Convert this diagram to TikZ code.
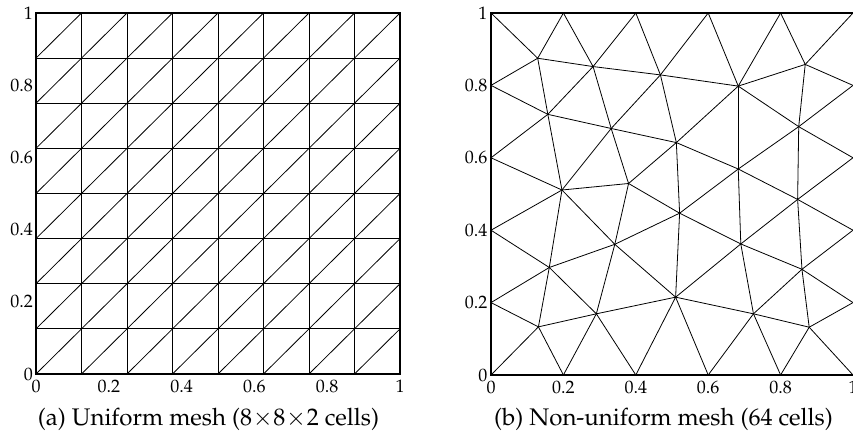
\documentclass[tikz,border=0pt]{standalone}
\usepackage[T1]{fontenc}
\usepackage{mathpazo}
\begin{document}
\begin{tikzpicture}[x=1pt,y=1pt,
  mesh/.style={line width=0.8pt, line join=round, line cap=round},
  frame/.style={line width=1.3pt},
  tick/.style={font=\fontsize{18}{20}\selectfont, inner sep=0pt},
  capt/.style={font=\fontsize{24}{28}\selectfont, inner sep=0pt, anchor=base}]
\useasboundingbox (0,0) rectangle (853,433);

% ---------- (a) uniform mesh ----------
\begin{scope}[shift={(36pt,59pt)}, x=364pt, y=361pt]
  \foreach \k in {1,...,7} {
    \draw[mesh] (\k/8,0) -- (\k/8,1);
    \draw[mesh] (0,\k/8) -- (1,\k/8);
  }
  \foreach \i in {0,...,7} {
    \foreach \j in {0,...,7} {
      \draw[mesh] (\i/8,\j/8) -- ++(1/8,1/8);
    }
  }
  \draw[frame] (0,0) rectangle (1,1);
  \foreach \v [count=\n] in {0,0.2,0.4,0.6,0.8,1} {
    \node[tick, anchor=east] (aly\n) at ([xshift=-3pt]0,\v) {\v};
    \node[tick, anchor=north] (alx\n) at ([yshift=-6pt]\v,0) {\v};
  }
\end{scope}
\node[capt] (capa) at (208.5,7) {(a) Uniform mesh ($8\!\times\!8\!\times\!2$ cells)};

% ---------- (b) non-uniform mesh ----------
\begin{scope}[shift={(491pt,58pt)}, x=362pt, y=362pt]
  % boundary vertices
  \foreach \v [count=\n from 0] in {0,0.2,0.4,0.6,0.8,1} {
    \coordinate (b\n) at (\v,0);
    \coordinate (t\n) at (\v,1);
  }
  \coordinate (l1) at (0,0.2); \coordinate (l2) at (0,0.4);
  \coordinate (l3) at (0,0.6); \coordinate (l4) at (0,0.8);
  \coordinate (r1) at (1,0.2); \coordinate (r2) at (1,0.4);
  \coordinate (r3) at (1,0.6); \coordinate (r4) at (1,0.8);
  % interior vertices
  \coordinate (nA) at (0.129,0.875);
  \coordinate (nB) at (0.282,0.852);
  \coordinate (nE) at (0.468,0.829);
  \coordinate (nF) at (0.683,0.798);
  \coordinate (nG) at (0.868,0.858);
  \coordinate (nC) at (0.157,0.720);
  \coordinate (nD) at (0.332,0.681);
  \coordinate (nI) at (0.512,0.642);
  \coordinate (nH) at (0.850,0.686);
  \coordinate (nJ) at (0.196,0.511);
  \coordinate (nK) at (0.380,0.529);
  \coordinate (nN) at (0.683,0.569);
  \coordinate (nO) at (0.847,0.485);
  \coordinate (nP) at (0.521,0.447);
  \coordinate (nM) at (0.161,0.297);
  \coordinate (nL) at (0.342,0.361);
  \coordinate (nQ) at (0.690,0.362);
  \coordinate (nR) at (0.859,0.292);
  \coordinate (nS) at (0.131,0.133);
  \coordinate (nT) at (0.291,0.169);
  \coordinate (nU) at (0.510,0.215);
  \coordinate (nV) at (0.725,0.169);
  \coordinate (nW) at (0.879,0.132);
  % edges
  \foreach \a/\b in {t0/nA, t1/nA, t1/nB, t2/nB, t2/nE, t3/nE, t3/nF, t4/nF, t4/nG, t5/nG,
      nA/nB, nB/nE, nE/nF, nF/nG,
      l4/nA, l4/nC, l3/nC, l3/nJ, l2/nJ, l2/nM, l1/nM, l1/nS, b0/nS,
      nA/nC, nB/nC, nB/nD, nC/nD, nC/nJ, nD/nE, nD/nI, nD/nJ, nD/nK, nE/nI,
      nF/nI, nF/nN, nF/nH, nG/nH, nG/r4, nH/r4, nH/r3, nH/nN, nH/nO,
      nI/nN, nI/nP, nI/nK, nJ/nK, nJ/nL, nJ/nM, nK/nL, nK/nP, nL/nP, nL/nM,
      nL/nT, nL/nU, nM/nS, nM/nT, nN/nO, nN/nP, nN/nQ, nO/nQ, nO/r3, nO/r2,
      nO/nR, nP/nQ, nP/nU, nQ/nU, nQ/nV, nQ/nR, nR/nV, nR/nW, nR/r2, nR/r1,
      nS/nT, nS/b1, nT/b1, nT/b2, nT/nU, nU/b2, nU/b3, nU/nV, nV/b3, nV/b4,
      nV/nW, nW/b4, nW/b5, nW/r1} {
    \draw[mesh] (\a) -- (\b);
  }
  \draw[frame] (b5) -- (b0) -- (t0) -- (t5);
  \foreach \v [count=\n] in {0,0.2,0.4,0.6,0.8,1} {
    \node[tick, anchor=east] (bly\n) at ([xshift=-3.5pt]0,\v) {\v};
    \node[tick, anchor=north] (blx\n) at ([yshift=-6pt]\v,0) {\v};
  }
\end{scope}
\node[capt] (capb) at (663.5,7) {(b) Non-uniform mesh (64 cells)};
\end{tikzpicture}
\end{document}
